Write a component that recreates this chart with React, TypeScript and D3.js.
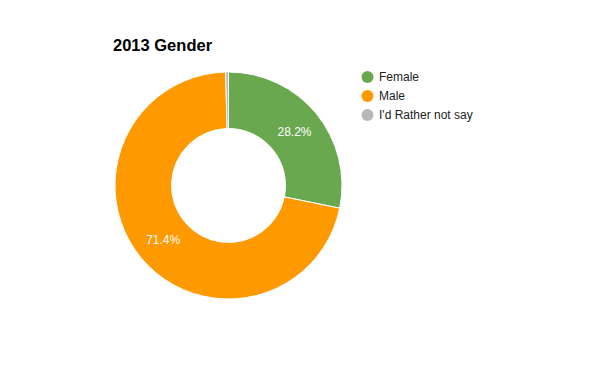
import * as d3 from "d3";

const categories = ["Female", "Male", "I'd Rather not say"];
const shares = [28.2, 71.4, 0.4];
const colors = ["#6aa84f", "#ff9900", "#b7b7b7"];

const width = 598;
const height = 370;
const cx = 228.5;
const cy = 185.5;
const outerR = 113.5;
const innerR = 57;

export default function App() {
  const pie = d3
    .pie<number>()
    .sort(null)
    .value((d) => d);
  const arcs = pie(shares);

  const arc = d3
    .arc<d3.PieArcDatum<number>>()
    .innerRadius(innerR)
    .outerRadius(outerR);

  // labels sit halfway across the ring
  const labelArc = d3
    .arc<d3.PieArcDatum<number>>()
    .innerRadius((innerR + outerR) / 2)
    .outerRadius((innerR + outerR) / 2);

  const legendY = d3
    .scalePoint<string>()
    .domain(categories)
    .range([77, 115]);

  return (
    <svg
      width={width}
      height={height}
      style={{ position: "absolute", left: 0, top: 0, fontFamily: "Arial, 'Liberation Sans', sans-serif" }}
    >
      <rect width={width} height={height} fill="#ffffff" />
      <text x={113} y={51} fontSize={16.5} fontWeight="bold" fill="#000000">
        2013 Gender
      </text>

      <g transform={`translate(${cx},${cy})`}>
        {arcs.map((a, i) => (
          <path key={categories[i]} d={arc(a) ?? ""} fill={colors[i]} stroke="#ffffff" strokeWidth={1} />
        ))}
        {arcs.map((a, i) => {
          if (a.value < 5) return null;
          const [x, y] = labelArc.centroid(a);
          return (
            <text
              key={"l" + i}
              x={x}
              y={y}
              dy="0.35em"
              textAnchor="middle"
              fontSize={12}
              fill="#ffffff"
            >
              {a.value.toFixed(1)}%
            </text>
          );
        })}
      </g>

      <g>
        {categories.map((c, i) => (
          <g key={c} transform={`translate(0,${legendY(c)})`}>
            <circle cx={367.5} cy={0} r={6} fill={colors[i]} />
            <text x={379} y={0} dy="0.35em" fontSize={12} fill="#222222">
              {c}
            </text>
          </g>
        ))}
      </g>
    </svg>
  );
}
